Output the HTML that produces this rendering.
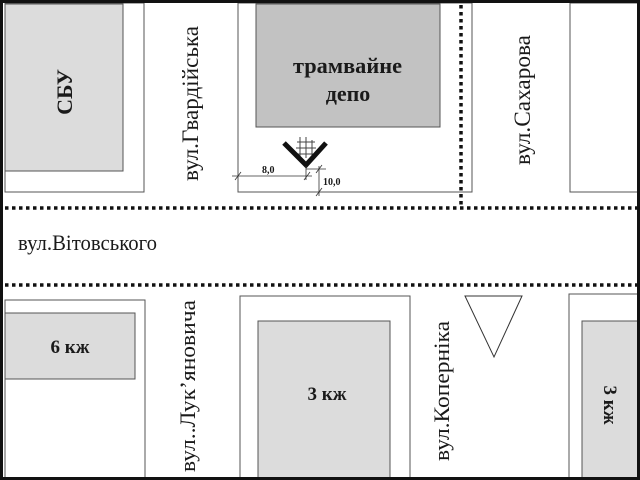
<!DOCTYPE html>
<html><head><meta charset="utf-8"><style>
html,body{margin:0;padding:0;background:#fff;}
svg{display:block;}
text{font-family:"Liberation Serif",serif;fill:#1a1a1a;}
</style></head><body>
<svg width="640" height="480" viewBox="0 0 640 480" xmlns="http://www.w3.org/2000/svg">
<rect x="0" y="0" width="640" height="480" fill="#fff"/>
<rect x="5" y="3" width="139" height="189" fill="none" stroke="#555" stroke-width="1"/>
<rect x="5" y="4" width="118" height="167" fill="#dcdcdc" stroke="#555" stroke-width="1"/>
<rect x="238" y="3" width="234" height="189" fill="none" stroke="#555" stroke-width="1"/>
<rect x="256" y="4" width="184" height="123" fill="#c2c2c2" stroke="#555" stroke-width="1"/>
<rect x="570" y="3" width="70" height="189" fill="none" stroke="#555" stroke-width="1"/>
<line x1="5" y1="208" x2="640" y2="208" stroke="#111" stroke-width="3.5" stroke-dasharray="3.5 3.5"/>
<line x1="5" y1="285" x2="640" y2="285" stroke="#111" stroke-width="3.5" stroke-dasharray="3.5 3.5"/>
<line x1="461" y1="5" x2="461" y2="206" stroke="#111" stroke-width="3.5" stroke-dasharray="3.5 3.5"/>
<rect x="5" y="300" width="140" height="185" fill="none" stroke="#555" stroke-width="1"/>
<rect x="5" y="313" width="130" height="66" fill="#dcdcdc" stroke="#555" stroke-width="1"/>
<rect x="240" y="296" width="170" height="190" fill="none" stroke="#555" stroke-width="1"/>
<rect x="258" y="321" width="132" height="165" fill="#dcdcdc" stroke="#555" stroke-width="1"/>
<rect x="569" y="294" width="75" height="190" fill="none" stroke="#555" stroke-width="1"/>
<rect x="582" y="321" width="60" height="165" fill="#dcdcdc" stroke="#555" stroke-width="1"/>
<polygon points="465,296 522,296 494,357" fill="#fff" stroke="#333" stroke-width="1"/>
<g stroke="#444" stroke-width="1">
<line x1="300" y1="137" x2="300" y2="158"/><line x1="306" y1="137" x2="306" y2="158"/><line x1="312" y1="140" x2="312" y2="156"/>
<line x1="297" y1="142" x2="315" y2="142"/><line x1="296" y1="148" x2="316" y2="148"/><line x1="297" y1="154" x2="315" y2="154"/>
</g>
<polyline points="284,143 306,165 326,143" fill="none" stroke="#111" stroke-width="5"/>
<g stroke="#333" stroke-width="0.8">
<line x1="232" y1="176" x2="312" y2="176"/>
<line x1="235" y1="180" x2="241" y2="172"/>
<line x1="304" y1="180" x2="310" y2="172"/>
<line x1="306" y1="166" x2="306" y2="180"/>
<line x1="306" y1="169" x2="326" y2="169"/>
<line x1="319" y1="166" x2="319" y2="196"/>
<line x1="316" y1="173" x2="322" y2="165"/>
<line x1="316" y1="196" x2="322" y2="188"/>
</g>
<text x="262" y="173" font-size="10" font-weight="bold">8,0</text>
<text x="323" y="185" font-size="10" font-weight="bold">10,0</text>
<text x="0" y="0" font-size="22" font-weight="bold" text-anchor="middle" transform="translate(72,92) rotate(-90)">СБУ</text>
<text x="293" y="73" font-size="22" font-weight="bold" textLength="109" lengthAdjust="spacingAndGlyphs">трамвайне</text>
<text x="348" y="101" font-size="22" font-weight="bold" text-anchor="middle">депо</text>
<text x="-77" y="0" font-size="23" textLength="155" lengthAdjust="spacingAndGlyphs" transform="translate(198,104) rotate(-90)">вул.Гвардійська</text>
<text x="-65" y="0" font-size="23" textLength="130" lengthAdjust="spacingAndGlyphs" transform="translate(530,100) rotate(-90)">вул.Сахарова</text>
<text x="18" y="250" font-size="22" textLength="139" lengthAdjust="spacingAndGlyphs">вул.Вітовського</text>
<text x="70" y="353" font-size="19" font-weight="bold" text-anchor="middle">6 кж</text>
<text x="327" y="400" font-size="19" font-weight="bold" text-anchor="middle">3 кж</text>
<text x="-86" y="0" font-size="22" textLength="172" lengthAdjust="spacingAndGlyphs" transform="translate(195,386) rotate(-90)">вул..Лук’яновича</text>
<text x="-70" y="0" font-size="22" textLength="140" lengthAdjust="spacingAndGlyphs" transform="translate(449,391) rotate(-90)">вул.Коперніка</text>
<text x="0" y="0" font-size="19" font-weight="bold" text-anchor="middle" transform="translate(604,405) rotate(90)">3 кж</text>
<rect x="1.5" y="1.5" width="637" height="477" fill="none" stroke="#111" stroke-width="3"/>
</svg>
</body></html>
